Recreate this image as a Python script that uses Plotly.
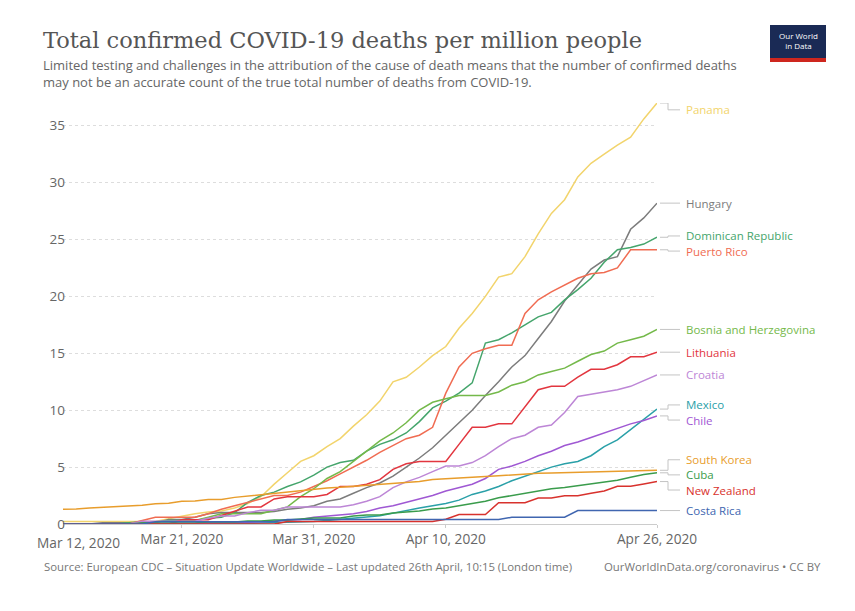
import pandas as pd
import plotly.graph_objects as go

# 日期（每日）
dates = pd.date_range("2020-03-12", "2020-04-26", freq="D")

# 每百萬人累計確診死亡
panama = [0.23, 0.23, 0.23, 0.23, 0.23, 0.23, 0.23, 0.23, 0.46, 0.7,
          0.9, 1.05, 1.15, 1.4, 1.8, 2.4, 3.5, 4.5, 5.5, 6.0,
          6.8, 7.5, 8.6, 9.6, 10.8, 12.5, 12.9, 13.8, 14.8, 15.6,
          17.2, 18.5, 20.0, 21.7, 22.0, 23.5, 25.5, 27.3, 28.5, 30.5,
          31.7, 32.5, 33.3, 34.0, 35.6, 37.0]
hungary = [0, 0, 0, 0.1, 0.1, 0.1, 0.1, 0.1, 0.4, 0.4,
           0.6, 0.9, 1.0, 1.0, 1.0, 1.0, 1.1, 1.3, 1.4, 1.6,
           2.0, 2.2, 2.7, 3.2, 3.6, 4.2, 5.0, 5.8, 6.7, 7.8,
           8.9, 10.0, 11.3, 12.5, 13.8, 14.8, 16.3, 17.8, 19.6, 21.0,
           22.4, 23.2, 23.5, 25.9, 26.9, 28.2]
dominican_republic = [0, 0, 0, 0, 0, 0.1, 0.2, 0.2, 0.3, 0.3,
                      0.3, 0.5, 0.6, 1.0, 1.9, 2.5, 2.8, 3.3, 3.7, 4.3,
                      5.0, 5.4, 5.6, 6.4, 7.0, 7.4, 8.0, 9.0, 10.2, 10.8,
                      11.5, 12.4, 15.9, 16.2, 16.8, 17.5, 18.2, 18.6, 19.7, 20.6,
                      21.6, 23.0, 24.1, 24.3, 24.6, 25.2]
puerto_rico = [0, 0, 0, 0, 0, 0, 0.3, 0.6, 0.6, 0.6,
               0.6, 0.9, 1.3, 1.6, 1.9, 2.2, 2.5, 2.5, 2.8, 3.3,
               3.8, 4.4, 5.0, 5.6, 6.3, 6.9, 7.5, 7.8, 8.5, 11.5,
               13.8, 15.0, 15.4, 15.7, 15.7, 18.5, 19.7, 20.4, 21.0, 21.6,
               22.0, 22.1, 22.5, 24.1, 24.1, 24.1]
bosnia = [0, 0, 0, 0, 0, 0, 0, 0, 0, 0.3,
          0.3, 0.6, 0.9, 0.9, 0.9, 0.9, 1.2, 1.5, 2.4, 3.1,
          4.0, 4.6, 5.5, 6.4, 7.3, 8.0, 8.9, 10.0, 10.7, 11.0,
          11.3, 11.3, 11.3, 11.6, 12.2, 12.5, 13.1, 13.4, 13.7, 14.3,
          14.9, 15.2, 15.9, 16.2, 16.5, 17.1]
lithuania = [0, 0, 0, 0, 0, 0, 0, 0, 0, 0.37,
             0.37, 0.37, 0.74, 1.1, 1.5, 1.5, 2.2, 2.4, 2.4, 2.4,
             2.6, 3.3, 3.3, 3.5, 3.9, 4.8, 5.3, 5.5, 5.5, 5.5,
             7.0, 8.5, 8.5, 8.8, 8.8, 10.3, 11.8, 12.1, 12.1, 12.9,
             13.6, 13.6, 14.0, 14.7, 14.7, 15.1]
croatia = [0, 0, 0, 0, 0, 0, 0.25, 0.25, 0.25, 0.25,
           0.25, 0.5, 0.7, 0.7, 1.0, 1.2, 1.2, 1.5, 1.5, 1.5,
           1.5, 1.5, 1.7, 2.0, 2.4, 3.2, 3.7, 4.1, 4.6, 5.1,
           5.1, 5.4, 6.0, 6.8, 7.5, 7.8, 8.5, 8.7, 9.8, 11.2,
           11.4, 11.6, 11.8, 12.1, 12.6, 13.1]
mexico = [0, 0, 0, 0, 0, 0, 0, 0, 0.01, 0.01,
          0.02, 0.02, 0.04, 0.04, 0.06, 0.08, 0.1, 0.12, 0.16, 0.22,
          0.3, 0.39, 0.49, 0.62, 0.73, 0.97, 1.16, 1.4, 1.6, 1.8,
          2.1, 2.6, 2.9, 3.3, 3.8, 4.2, 4.6, 5.0, 5.3, 5.5,
          6.0, 6.8, 7.4, 8.3, 9.2, 10.1]
chile = [0, 0, 0, 0, 0, 0, 0, 0, 0, 0.05,
         0.05, 0.1, 0.1, 0.15, 0.15, 0.2, 0.25, 0.3, 0.4, 0.6,
         0.7, 0.8, 0.9, 1.1, 1.4, 1.6, 1.9, 2.2, 2.5, 2.9,
         3.2, 3.5, 4.0, 4.8, 5.1, 5.5, 6.0, 6.4, 6.9, 7.2,
         7.6, 8.0, 8.4, 8.8, 9.1, 9.5]
south_korea = [1.29, 1.31, 1.40, 1.46, 1.46, 1.58, 1.64, 1.77, 1.83, 1.99,
               2.03, 2.16, 2.16, 2.34, 2.46, 2.56, 2.71, 2.81, 2.96, 3.08,
               3.16, 3.22, 3.30, 3.39, 3.45, 3.57, 3.63, 3.74, 3.90, 3.98,
               4.06, 4.12, 4.17, 4.23, 4.33, 4.39, 4.47, 4.49, 4.52, 4.56,
               4.60, 4.62, 4.64, 4.68, 4.68, 4.72]
cuba = [0, 0, 0, 0, 0, 0, 0.09, 0.09, 0.09, 0.09,
        0.09, 0.18, 0.18, 0.18, 0.26, 0.26, 0.35, 0.35, 0.44, 0.53,
        0.53, 0.53, 0.71, 0.79, 0.79, 0.97, 1.06, 1.15, 1.32, 1.4,
        1.6, 1.8, 2.0, 2.3, 2.5, 2.7, 2.9, 3.1, 3.2, 3.35,
        3.5, 3.65, 3.85, 4.1, 4.35, 4.5]
new_zealand = [0, 0, 0, 0, 0, 0, 0, 0, 0, 0,
               0, 0, 0, 0, 0, 0, 0, 0.21, 0.21, 0.21,
               0.21, 0.21, 0.21, 0.21, 0.21, 0.21, 0.21, 0.21, 0.21, 0.41,
               0.83, 0.83, 0.83, 1.87, 1.87, 1.87, 2.28, 2.28, 2.49, 2.49,
               2.70, 2.90, 3.32, 3.32, 3.52, 3.73]
costa_rica = [0, 0, 0, 0, 0, 0, 0, 0.2, 0.2, 0.2,
              0.2, 0.2, 0.2, 0.2, 0.2, 0.2, 0.2, 0.39, 0.39, 0.39,
              0.39, 0.39, 0.39, 0.39, 0.39, 0.39, 0.39, 0.39, 0.39, 0.39,
              0.39, 0.39, 0.39, 0.39, 0.59, 0.59, 0.59, 0.59, 0.59, 1.18,
              1.18, 1.18, 1.18, 1.18, 1.18, 1.18]

countries = ["Panama", "Hungary", "Dominican Republic", "Puerto Rico",
             "Bosnia and Herzegovina", "Lithuania", "Croatia", "Mexico",
             "Chile", "South Korea", "Cuba", "New Zealand", "Costa Rica"]
series = [panama, hungary, dominican_republic, puerto_rico, bosnia, lithuania,
          croatia, mexico, chile, south_korea, cuba, new_zealand, costa_rica]
colors = ["#f2d46c", "#7c7c7c", "#45a56c", "#f06c52", "#74b94a", "#e2363f",
          "#bd86d6", "#2aa0a8", "#9f58d3", "#e89d2c", "#3a9c4c", "#d8322d",
          "#4066b0"]

tick_dates = ["2020-03-12", "2020-03-21", "2020-03-31", "2020-04-10", "2020-04-26"]
tick_text = ["Mar 12, 2020", "Mar 21, 2020", "Mar 31, 2020", "Apr 10, 2020", "Apr 26, 2020"]
y_ticks = [0, 5, 10, 15, 20, 25, 30, 35]

# 版面（螢幕像素；頁面 body 有 8px 邊距）
OFF = 8
W, H = 855 - OFF, 611 - OFF
L, R, T, B = 63, 657, 103, 524
Y_MAX = 37
SANS = "Open Sans"


def px_x(px):
    return (px - L) / (R - L)


def px_y(py):
    return (B - py) / (B - T)


# 右側標籤位置：重疊時以群組中心展開
GAP = 1.33
last = [s[-1] for s in series]
order = sorted(range(len(series)), key=lambda i: -last[i])
clusters = []
for i in order:
    clusters.append([i])
    while len(clusters) > 1:
        a, b = clusters[-2], clusters[-1]
        ca = sum(last[k] for k in a) / len(a)
        cb = sum(last[k] for k in b) / len(b)
        a_bottom = ca - (len(a) - 1) * GAP / 2
        b_top = cb + (len(b) - 1) * GAP / 2
        if a_bottom - b_top < GAP:
            clusters[-2:] = [a + b]
        else:
            break
label_y = {}
for c in clusters:
    center = sum(last[k] for k in c) / len(c)
    for j, k in enumerate(c):
        label_y[k] = min(center + ((len(c) - 1) / 2 - j) * GAP, Y_MAX - 0.6)

fig = go.Figure()
for name, vals, col in zip(countries, series, colors):
    fig.add_trace(go.Scatter(x=dates, y=vals, name=name, mode="lines",
                             line=dict(color=col, width=1.5)))

shapes = []
annotations = []
for k, (name, col) in enumerate(zip(countries, colors)):
    ly = label_y[k]
    shapes.append(dict(type="path", xref="paper", yref="y",
                       path=f"M {px_x(R + 3)} {last[k]} L {px_x(R + 11)} {last[k]} "
                            f"L {px_x(R + 11)} {ly} L {px_x(R + 23)} {ly}",
                       line=dict(color="#c4c4c4", width=1)))
    annotations.append(dict(x=px_x(685), y=ly, xref="paper", yref="y",
                            text=name, showarrow=False, xanchor="left",
                            borderpad=0,
                            font=dict(family=SANS, size=11.5, color=col)))

# 第一個日期標籤靠右放，避免與 0 重疊
annotations.append(dict(x=px_x(36), y=px_y(542), xref="paper", yref="paper",
                        text=tick_text[0], showarrow=False, borderpad=0,
                        xanchor="left", yanchor="middle",
                        font=dict(family=SANS, size=13.7, color="#666666")))
axis_text = [""] + tick_text[1:]

# 標題、副標題、來源
annotations += [
    dict(x=px_x(41), y=px_y(40), xref="paper", yref="paper", showarrow=False,
         xanchor="left", yanchor="middle",
         text="Total confirmed COVID-19 deaths per million people",
         font=dict(family="DejaVu Serif", size=22.5, color="#555555")),
    dict(x=px_x(41), y=px_y(54), xref="paper", yref="paper", showarrow=False,
         xanchor="left", yanchor="top", align="left",
         text="Limited testing and challenges in the attribution of the cause of death means that the number of confirmed deaths<br>"
              "may not be an accurate count of the true total number of deaths from COVID-19.",
         font=dict(family=SANS, size=13, color="#666666")),
    dict(x=px_x(42), y=px_y(566), xref="paper", yref="paper", showarrow=False,
         xanchor="left", yanchor="middle",
         text="Source: European CDC – Situation Update Worldwide – Last updated 26th April, 10:15 (London time)",
         font=dict(family=SANS, size=11.4, color="#777777")),
    dict(x=px_x(823), y=px_y(566), xref="paper", yref="paper", showarrow=False,
         xanchor="right", yanchor="middle",
         text="OurWorldInData.org/coronavirus • CC BY",
         font=dict(family=SANS, size=11.4, color="#777777")),
    dict(x=px_x(798), y=px_y(41), xref="paper", yref="paper", showarrow=False,
         xanchor="center", yanchor="middle", text="Our World<br>in Data",
         font=dict(family=SANS, size=8, color="white")),
]

# Logo
shapes += [
    dict(type="rect", xref="paper", yref="paper", x0=px_x(770), x1=px_x(826),
         y0=px_y(58), y1=px_y(25), fillcolor="#1a2a55", line=dict(width=0)),
    dict(type="rect", xref="paper", yref="paper", x0=px_x(770), x1=px_x(826),
         y0=px_y(62), y1=px_y(58), fillcolor="#ce261e", line=dict(width=0)),
]

fig.update_layout(
    width=W, height=H,
    margin=dict(l=L - OFF, r=W - (R - OFF), t=T - OFF, b=H - (B - OFF)),
    paper_bgcolor="white",
    plot_bgcolor="white",
    showlegend=False,
    font=dict(family=SANS, color="#666666"),
    xaxis=dict(type="date", range=[dates[0], dates[-1]],
               tickvals=tick_dates, ticktext=axis_text,
               showgrid=False, zeroline=False,
               showline=True, linecolor="#cccccc", linewidth=1,
               ticks="outside", ticklen=3, tickcolor="#cccccc",
               tickfont=dict(family=SANS, size=13.7, color="#666666")),
    yaxis=dict(range=[0, Y_MAX], tickvals=y_ticks,
               showgrid=True, gridcolor="#dddddd", griddash="dot",
               zeroline=False, showline=False, ticks="", ticklen=0,
               ticklabelstandoff=-3,
               tickfont=dict(family=SANS, size=13.5, color="#666666")),
    shapes=shapes,
    annotations=annotations,
)

fig.write_html("out.html")
